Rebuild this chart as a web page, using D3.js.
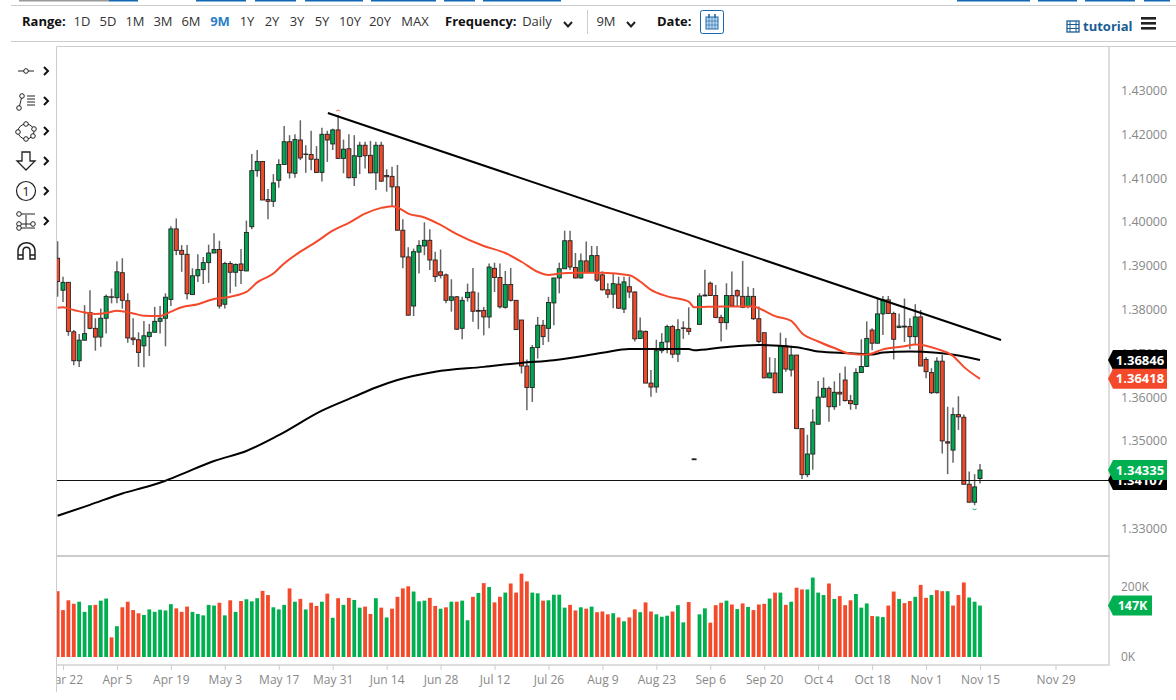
<!DOCTYPE html>
<html><head><meta charset="utf-8">
<script src="https://cdn.jsdelivr.net/npm/d3@7/dist/d3.min.js"></script>
<style>html,body{margin:0;padding:0;background:#fff;overflow:hidden}svg{display:block}
text{font-family:"Open Sans","Noto Sans",sans-serif}</style></head><body>
<svg id="c" width="1176" height="700"></svg>
<script>
// first bar index is -1 (one bar before the Mar 22 tick)
const firstIndex = -1;
const opens = [1.3917,1.3844,1.3862,1.3749,1.3683,1.3730,1.3793,1.3757,1.3737,1.3780,1.3829,1.3827,1.3884,1.3820,1.3735,1.3731,1.3717,1.3738,1.3748,1.3773,1.3780,1.3823,1.3984,1.3935,1.3926,1.3834,1.3877,1.3891,1.3907,1.3929,1.3937,1.3812,1.3905,1.3885,1.3904,1.3888,1.3989,1.4117,1.4138,1.4051,1.4047,1.4095,1.4131,1.4183,1.4111,1.4187,1.4155,1.4154,1.4143,1.4113,1.4200,1.4178,1.4210,1.4145,1.4167,1.4101,1.4149,1.4175,1.4152,1.4112,1.4175,1.4106,1.4104,1.4080,1.3981,1.3920,1.3808,1.3931,1.3945,1.3958,1.3913,1.3886,1.3879,1.3821,1.3829,1.3757,1.3827,1.3840,1.3798,1.3798,1.3783,1.3894,1.3873,1.3805,1.3857,1.3821,1.3776,1.3671,1.3622,1.3713,1.3764,1.3757,1.3815,1.3872,1.3893,1.3957,1.3896,1.3872,1.3911,1.3885,1.3923,1.3879,1.3845,1.3835,1.3858,1.3801,1.3852,1.3840,1.3734,1.3750,1.3632,1.3623,1.3706,1.3726,1.3761,1.3698,1.3758,1.3757,1.3459,1.3766,1.3833,1.3860,1.3832,1.3782,1.3770,1.3832,1.3843,1.3830,1.3807,1.3830,1.3779,1.3747,1.3644,1.3655,1.3610,1.3717,1.3662,1.3696,1.3528,1.3423,1.3470,1.3538,1.3600,1.3620,1.3578,1.3611,1.3639,1.3592,1.3583,1.3656,1.3670,1.3753,1.3723,1.3790,1.3822,1.3791,1.3759,1.3760,1.3761,1.3738,1.3783,1.3686,1.3656,1.3610,1.3682,1.3498,1.3479,1.3560,1.3554,1.3401,1.3360,1.3414];
const highs = [1.3956,1.3875,1.3862,1.3753,1.3744,1.3810,1.3844,1.3780,1.3802,1.3834,1.3848,1.3910,1.3917,1.3837,1.3780,1.3748,1.3774,1.3767,1.3806,1.3808,1.3837,1.3990,1.4008,1.3947,1.3947,1.3894,1.3926,1.3920,1.3948,1.3974,1.3957,1.3909,1.3910,1.3905,1.3938,1.4003,1.4155,1.4164,1.4139,1.4075,1.4109,1.4143,1.4219,1.4198,1.4200,1.4232,1.4175,1.4208,1.4173,1.4215,1.4208,1.4213,1.4244,1.4188,1.4200,1.4198,1.4183,1.4183,1.4185,1.4183,1.4183,1.4120,1.4126,1.4130,1.4006,1.3942,1.3939,1.3958,1.3999,1.3983,1.3932,1.3937,1.3882,1.3869,1.3831,1.3829,1.3859,1.3895,1.3839,1.3806,1.3905,1.3907,1.3905,1.3888,1.3895,1.3821,1.3776,1.3686,1.3719,1.3783,1.3776,1.3829,1.3872,1.3907,1.3980,1.3980,1.3929,1.3928,1.3955,1.3945,1.3945,1.3887,1.3860,1.3883,1.3875,1.3875,1.3875,1.3841,1.3782,1.3752,1.3662,1.3731,1.3746,1.3765,1.3765,1.3778,1.3773,1.3805,1.3459,1.3837,1.3891,1.3864,1.3856,1.3788,1.3860,1.3887,1.3846,1.3911,1.3852,1.3849,1.3807,1.3747,1.3691,1.3689,1.3747,1.3735,1.3717,1.3696,1.3528,1.3514,1.3572,1.3637,1.3645,1.3624,1.3636,1.3655,1.3670,1.3605,1.3666,1.3732,1.3773,1.3757,1.3825,1.3831,1.3831,1.3795,1.3791,1.3825,1.3780,1.3812,1.3799,1.3691,1.3666,1.3691,1.3696,1.3578,1.3576,1.3602,1.3560,1.3430,1.3424,1.3447];
const lows = [1.3829,1.3817,1.3740,1.3673,1.3669,1.3729,1.3755,1.3706,1.3715,1.3745,1.3814,1.3814,1.3802,1.3724,1.3719,1.3669,1.3668,1.3694,1.3748,1.3745,1.3716,1.3808,1.3924,1.3886,1.3823,1.3833,1.3863,1.3858,1.3861,1.3929,1.3802,1.3802,1.3837,1.3852,1.3858,1.3888,1.3983,1.4103,1.4050,1.4006,1.4034,1.4078,1.4131,1.4099,1.4101,1.4141,1.4112,1.4118,1.4112,1.4092,1.4137,1.4164,1.4145,1.4111,1.4099,1.4082,1.4109,1.4122,1.4111,1.4073,1.4092,1.4069,1.4034,1.3981,1.3894,1.3787,1.3785,1.3882,1.3924,1.3890,1.3863,1.3871,1.3814,1.3795,1.3753,1.3732,1.3818,1.3772,1.3755,1.3741,1.3757,1.3840,1.3802,1.3802,1.3818,1.3754,1.3654,1.3570,1.3589,1.3688,1.3719,1.3726,1.3764,1.3837,1.3893,1.3890,1.3871,1.3871,1.3882,1.3884,1.3863,1.3843,1.3826,1.3803,1.3801,1.3792,1.3826,1.3727,1.3733,1.3632,1.3601,1.3610,1.3700,1.3700,1.3689,1.3680,1.3733,1.3742,1.3457,1.3766,1.3830,1.3831,1.3780,1.3727,1.3754,1.3807,1.3807,1.3803,1.3803,1.3776,1.3723,1.3643,1.3643,1.3609,1.3610,1.3658,1.3647,1.3527,1.3413,1.3417,1.3434,1.3538,1.3598,1.3544,1.3571,1.3580,1.3590,1.3571,1.3572,1.3655,1.3670,1.3707,1.3723,1.3742,1.3790,1.3686,1.3757,1.3726,1.3709,1.3719,1.3671,1.3643,1.3607,1.3608,1.3471,1.3424,1.3450,1.3525,1.3401,1.3360,1.3353,1.3403];
const closes = [1.3864,1.3862,1.3750,1.3683,1.3730,1.3745,1.3757,1.3737,1.3780,1.3830,1.3828,1.3886,1.3821,1.3735,1.3731,1.3702,1.3740,1.3748,1.3773,1.3780,1.3828,1.3984,1.3935,1.3926,1.3836,1.3877,1.3891,1.3907,1.3929,1.3937,1.3808,1.3905,1.3885,1.3903,1.3889,1.3976,1.4117,1.4138,1.4050,1.4047,1.4089,1.4131,1.4183,1.4112,1.4188,1.4146,1.4154,1.4143,1.4113,1.4200,1.4187,1.4210,1.4145,1.4166,1.4101,1.4151,1.4175,1.4151,1.4112,1.4175,1.4093,1.4103,1.4080,1.3981,1.3920,1.3787,1.3932,1.3946,1.3958,1.3913,1.3875,1.3878,1.3821,1.3829,1.3755,1.3821,1.3839,1.3796,1.3796,1.3783,1.3897,1.3873,1.3806,1.3857,1.3821,1.3754,1.3671,1.3622,1.3713,1.3764,1.3738,1.3816,1.3872,1.3893,1.3957,1.3897,1.3872,1.3911,1.3885,1.3923,1.3867,1.3845,1.3835,1.3859,1.3803,1.3863,1.3840,1.3733,1.3751,1.3632,1.3623,1.3706,1.3725,1.3761,1.3698,1.3754,1.3757,1.3750,1.3457,1.3831,1.3831,1.3832,1.3782,1.3770,1.3832,1.3809,1.3831,1.3805,1.3830,1.3779,1.3727,1.3644,1.3655,1.3610,1.3717,1.3664,1.3696,1.3528,1.3423,1.3470,1.3543,1.3600,1.3620,1.3578,1.3611,1.3607,1.3592,1.3585,1.3656,1.3670,1.3734,1.3723,1.3790,1.3822,1.3791,1.3732,1.3762,1.3762,1.3738,1.3783,1.3671,1.3658,1.3610,1.3682,1.3500,1.3495,1.3560,1.3555,1.3401,1.3360,1.3395,1.34335];
const volumes = [188,134,162,152,158,129,148,149,161,167,56,88,142,158,134,125,120,136,129,135,133,151,139,129,144,129,123,119,149,147,155,119,162,129,160,165,159,168,189,177,142,136,149,196,158,166,136,155,146,158,181,112,168,149,169,163,141,144,123,168,141,113,138,172,196,202,187,159,161,169,146,138,142,158,158,161,105,172,183,211,200,156,172,184,210,184,238,216,184,182,161,162,178,178,141,149,133,142,138,144,128,130,122,125,113,102,113,136,128,156,130,122,115,118,130,148,99,157,0,122,139,98,148,155,161,150,137,153,143,134,150,152,167,184,184,149,158,198,193,193,227,184,177,210,166,174,148,162,180,141,153,117,116,114,147,187,166,154,160,172,206,169,177,191,188,188,147,177,213,170,158,147];
const volumeUp = [0,0,0,0,1,1,1,0,1,1,0,1,0,0,0,0,1,1,1,1,1,1,0,0,0,1,1,1,1,1,0,1,0,1,0,1,1,1,0,0,1,1,1,0,1,0,1,0,0,1,0,1,0,1,0,1,1,0,0,1,0,1,0,0,0,0,1,1,1,0,0,1,0,1,0,1,1,0,1,0,1,0,0,1,0,0,0,0,1,1,0,1,1,1,1,0,0,1,0,1,0,0,0,1,0,1,0,0,1,0,0,1,1,1,0,1,1,0,0,1,1,0,0,0,1,0,1,0,1,0,0,0,1,0,1,0,1,0,0,1,1,1,1,0,1,0,0,0,1,1,1,0,1,1,0,0,1,0,0,1,0,0,1,0,0,1,0,0,0,1,1,1].map(Boolean);

// moving averages read at sampled bar positions
const ma50Idx = [-1,0,2,4,6,8,10,13,15,18,20,22,25,28,30,34,36,39,41,44,47,50,53,56,59,61,62,64,67,70,73,78,82,85,88,90,92,95,100,105,107,109,112,116,117,122,128,129,132,135,137,140,143,146,149,152,156,158,162,165,167,170];
const ma50Val = [1.3804,1.3805,1.3799,1.3793,1.3790,1.3792,1.3797,1.3791,1.3786,1.3785,1.3795,1.3805,1.3812,1.3824,1.3827,1.3840,1.3862,1.3882,1.3905,1.3932,1.3955,1.3980,1.3998,1.4019,1.4032,1.4036,1.4033,1.4019,1.4010,1.3993,1.3972,1.3945,1.3929,1.3909,1.3886,1.3879,1.3882,1.3884,1.3884,1.3878,1.3864,1.3845,1.3830,1.3818,1.3805,1.3807,1.3807,1.3803,1.3785,1.3774,1.3746,1.3727,1.3712,1.3699,1.3697,1.3709,1.3716,1.3720,1.3710,1.3694,1.3669,1.36418];
const ma200Idx = [-1,5,11,16,19,22,28,34,40,48,54,58,62,69,78,85,91,100,105,116,117,122,129,136,140,146,150,152,157,162,166,170];
const ma200Val = [1.3329,1.3354,1.3380,1.3397,1.3409,1.3424,1.3454,1.3477,1.3513,1.3569,1.3601,1.3622,1.3639,1.3658,1.3669,1.3678,1.3684,1.3701,1.3710,1.3710,1.3707,1.3713,1.3719,1.3714,1.3704,1.3700,1.3697,1.3702,1.3704,1.3701,1.3695,1.36846];

// hand-drawn annotations: [bar index, price]
const trendLine = [[49.1,1.42486],[173.9,1.37304]];
const supportLevel = 1.34107;

const priceTicks = [1.33,1.34,1.35,1.36,1.37,1.38,1.39,1.40,1.41,1.42,1.43];
const volumeTicks = [0,200];
const dateTickIdx = [0,10,20,30,40,50,60,70,80,90,100,110,120,130,140,150,160,170,184];
const dateTickLabels = ["Mar 22","Apr 5","Apr 19","May 3","May 17","May 31","Jun 14","Jun 28","Jul 12","Jul 26","Aug 9","Aug 23","Sep 6","Sep 20","Oct 4","Oct 18","Nov 1","Nov 15","Nov 29"];
const rangeLabels = ["1D","5D","1M","3M","6M","9M","1Y","2Y","3Y","5Y","10Y","20Y","MAX"];
const lastTags = [{v:1.34107,c:"#000"},{v:1.36846,c:"#000"},{v:1.36418,c:"#f4492a"},{v:1.34335,c:"#00b050"}];

const RED="#f0492a", GREEN="#00a650", VRED="#f4492a", VGREEN="#00b050";
const svg=d3.select("#c");
const L=57,R=1109,T=47,SEP=556,B=665;

const x=d3.scaleLinear().domain([0,170]).range([63,980]);
const y=d3.scaleLinear().domain([1.33,1.43]).range([528.5,90.5]);
const yv=d3.scaleLinear().domain([0,200]).range([657,587]);

const defs=svg.append("defs");
defs.append("clipPath").attr("id","plot").append("rect").attr("x",L).attr("y",T).attr("width",R-L).attr("height",SEP-T);
defs.append("clipPath").attr("id","vol").append("rect").attr("x",L).attr("y",SEP).attr("width",R-L).attr("height",B-SEP);
defs.append("clipPath").attr("id","xax").append("rect").attr("x",L).attr("y",0).attr("width",R-L+60).attr("height",40);

/* ---------- page chrome ---------- */
const chrome=svg.append("g");
[[19,109,"#999"],[109,138,"#1268b3"],[196,246,"#1268b3"],[255,296,"#1268b3"],[305,363,"#1268b3"],[371,436,"#1268b3"],[444,475,"#1268b3"],[483,561,"#1268b3"],[957,1030,"#1268b3"],[1038,1077,"#1268b3"],[1085,1135,"#1268b3"],[1144,1170,"#1268b3"]]
 .forEach(d=>chrome.append("rect").attr("x",d[0]).attr("y",0).attr("width",d[1]-d[0]).attr("height",1.5).attr("fill",d[2]));
chrome.append("line").attr("x1",11).attr("x2",1176).attr("y1",5.5).attr("y2",5.5).attr("stroke","#ccc");
chrome.append("line").attr("x1",11).attr("x2",1176).attr("y1",41.5).attr("y2",41.5).attr("stroke","#ccc");

const tb=svg.append("g").attr("font-size",13).attr("fill","#333");
const t=(s,xx,yy,o={})=>tb.append("text").attr("x",xx).attr("y",yy).text(s).attr("text-anchor",o.a||"middle").attr("font-weight",o.b?700:400).attr("fill",o.c||"#333").attr("font-size",o.s||13);
t("Range:",22,26,{a:"start",b:1,c:"#111"});
const rangeX=[82,108,135,163,191,220,247,272,297,322,350,380,415];
rangeLabels.forEach((r,i)=>t(r,rangeX[i],26,r==="9M"?{b:1,c:"#2c7fc7"}:{}));
t("Frequency:",445,26,{a:"start",b:1,c:"#111"});
t("Daily",537,26);
t("9M",606,26);
t("Date:",657,26,{a:"start",b:1,c:"#111"});
const chev=(cx,cy)=>tb.append("path").attr("d",`M${cx-4},${cy-3}L${cx},${cy+1.5}L${cx+4},${cy-3}`).attr("fill","none").attr("stroke","#222").attr("stroke-width",2);
chev(568,25);chev(631,25);
tb.append("line").attr("x1",587.5).attr("x2",587.5).attr("y1",10).attr("y2",34).attr("stroke","#ccc");
tb.append("rect").attr("x",700.5).attr("y",10.5).attr("width",23).attr("height",23).attr("rx",2).attr("fill","#fff").attr("stroke","#1268b3");
tb.append("rect").attr("x",706).attr("y",17).attr("width",12).attr("height",12).attr("fill","#bcd6ee").attr("stroke","#1f6aa8");
[709,712,715].forEach(a=>tb.append("line").attr("x1",a).attr("x2",a).attr("y1",17).attr("y2",29).attr("stroke","#1f6aa8").attr("stroke-width",.6));
[21,25].forEach(a=>tb.append("line").attr("x1",706).attr("x2",718).attr("y1",a).attr("y2",a).attr("stroke","#1f6aa8").attr("stroke-width",.6));
[709,715].forEach(a=>tb.append("line").attr("x1",a).attr("x2",a).attr("y1",14).attr("y2",18).attr("stroke","#1f6aa8").attr("stroke-width",1.6));
t("tutorial",1083,31,{a:"start",b:1,c:"#1a5d94"});
tb.append("rect").attr("x",1067).attr("y",21).attr("width",12).attr("height",11).attr("fill","#fff").attr("stroke","#1a5d94").attr("stroke-width",1.3);
[1070,1076].forEach(a=>tb.append("line").attr("x1",a).attr("x2",a).attr("y1",21).attr("y2",32).attr("stroke","#1a5d94"));
[24.5,28.5].forEach(a=>tb.append("line").attr("x1",1067).attr("x2",1079).attr("y1",a).attr("y2",a).attr("stroke","#1a5d94"));
[18,23,28].forEach(a=>tb.append("rect").attr("x",1141).attr("y",a-1).attr("width",15).attr("height",2.6).attr("fill","#222"));

/* left drawing tool icons */
const ic=svg.append("g").attr("fill","none").attr("stroke","#222").attr("stroke-width",1);
const circ=(a,b,r=2.3)=>ic.append("circle").attr("cx",a).attr("cy",b).attr("r",r).attr("fill","#fff");
ic.append("path").attr("d","M18,71H34");circ(26,71);
ic.append("path").attr("d","M19,108L22,96M27,96H35M27,99H35M27,102H35M27,105H35");circ(22,96);circ(19,108);
ic.append("ellipse").attr("cx",26).attr("cy",131.5).attr("rx",8).attr("ry",7.5);[[26,124],[34,129],[33,136],[26,139],[18,132]].forEach(d=>circ(d[0],d[1]));
ic.append("path").attr("d","M22,152H30V161H35L26,170L17,161H22Z").attr("stroke-width",1.3);
ic.append("circle").attr("cx",26).attr("cy",191).attr("r",9.5).attr("stroke-width",1.2);
svg.append("text").attr("x",26).attr("y",196).attr("text-anchor","middle").attr("font-size",13).attr("fill","#222").text("1");
ic.append("path").attr("d","M18,214H35M18,228H35M18,224H35M26,215V227");circ(19,214);circ(19,224);circ(19,228);circ(33,224);
ic.append("path").attr("d","M18,259V251C18,240 35,240 35,251V259H30V251C30,246 23,246 23,251V259ZM18,255H23M30,255H35").attr("stroke-width",1.5);
const chevR=(cy)=>svg.append("path").attr("d",`M44,${cy-4}L48,${cy}L44,${cy+4}`).attr("fill","none").attr("stroke","#111").attr("stroke-width",2);
[71,101,131,161,191,221].forEach(chevR);

/* ---------- panels ---------- */
const fr=svg.append("g").attr("stroke","#ccc").attr("fill","none");
fr.append("path").attr("d",`M${L-.5},692V${T-.5}H1176`);
fr.append("line").attr("x1",R).attr("x2",R).attr("y1",T).attr("y2",B+1).attr("stroke","#ddd").attr("stroke-width",2);
fr.append("line").attr("x1",L).attr("x2",R+1).attr("y1",SEP).attr("y2",SEP).attr("stroke-width",2);
fr.append("line").attr("x1",L).attr("x2",R+1).attr("y1",B).attr("y2",B).attr("stroke","#ddd").attr("stroke-width",2);

/* ---------- candles ---------- */
const bars=d3.range(opens.length).map(k=>({i:k+firstIndex,o:opens[k],h:highs[k],l:lows[k],c:closes[k],v:volumes[k],up:volumeUp[k]}));
const plot=svg.append("g").attr("clip-path","url(#plot)");
plot.append("g").selectAll("line").data(bars).join("line")
 .attr("x1",d=>x(d.i)).attr("x2",d=>x(d.i)).attr("y1",d=>y(d.h)).attr("y2",d=>y(d.l))
 .attr("stroke",d=>d.v===0?"#111":"#666").attr("stroke-width",1.5);
plot.append("g").selectAll("rect").data(bars).join("rect")
 .attr("x",d=>x(d.i)-2).attr("width",4)
 .attr("y",d=>y(Math.max(d.o,d.c))).attr("height",d=>Math.max(.5,Math.abs(y(d.o)-y(d.c))))
 .attr("fill",d=>d.c>d.o?GREEN:RED).attr("stroke","#222").attr("stroke-width",.9);

const line=d3.line().x(d=>x(d[0])).y(d=>y(d[1])).curve(d3.curveMonotoneX);
plot.append("path").attr("d",line(d3.zip(ma200Idx,ma200Val))).attr("fill","none").attr("stroke","#000").attr("stroke-width",2);
plot.append("path").attr("d",line(d3.zip(ma50Idx,ma50Val))).attr("fill","none").attr("stroke","#f4492a").attr("stroke-width",2);
plot.append("path").attr("d",d3.line().x(d=>x(d[0])).y(d=>y(d[1]))(trendLine)).attr("fill","none").attr("stroke","#000").attr("stroke-width",2);
const sy=Math.round(y(supportLevel))+.5;
svg.append("line").attr("x1",L).attr("x2",R).attr("y1",sy).attr("y2",sy).attr("stroke","#111").attr("stroke-width",1);

// high / low markers
const hiBar=bars.reduce((a,b)=>b.h>a.h?b:a), loBar=bars.reduce((a,b)=>b.l<a.l?b:a);
plot.append("path").attr("d",`M${x(hiBar.i)-2},${y(hiBar.h)-4}q2,-2 4,0`).attr("fill","none").attr("stroke","#f4492a").attr("stroke-width",.8);
plot.append("path").attr("d",`M${x(loBar.i)-2},${y(loBar.l)+3.5}q2,2 4,0`).attr("fill","none").attr("stroke","#00b050").attr("stroke-width",.9);

/* ---------- volume ---------- */
svg.append("g").attr("clip-path","url(#vol)").selectAll("rect").data(bars).join("rect")
 .attr("x",d=>x(d.i)-1.9).attr("width",3.8).attr("y",d=>yv(d.v)).attr("height",d=>yv(0)-yv(d.v))
 .attr("fill",d=>d.up?VGREEN:VRED);

/* ---------- axes ---------- */
const axY=d3.axisRight(y).tickValues(priceTicks).tickSize(0).tickPadding(12).tickFormat(d3.format(".5f"));
const gy=svg.append("g").attr("transform",`translate(${R},0)`).call(axY);
gy.select(".domain").remove();
gy.selectAll("text").attr("font-size",12.5).attr("fill","#888").attr("font-family",'"Open Sans"');

const axV=d3.axisRight(yv).tickValues(volumeTicks).tickSize(0).tickPadding(12).tickFormat(d=>d+"K");
const gv=svg.append("g").attr("transform",`translate(${R},0)`).call(axV);
gv.select(".domain").remove();
gv.selectAll("text").attr("font-size",12).attr("fill","#888").attr("font-family",'"Open Sans"');

const axX=d3.axisBottom(x).tickValues(dateTickIdx).tickSize(5).tickPadding(5).tickFormat(d=>dateTickLabels[dateTickIdx.indexOf(d)]);
const gx=svg.append("g").attr("transform",`translate(0,${B})`).attr("clip-path","url(#xax)").call(axX);
gx.select(".domain").remove();
gx.selectAll("line").attr("stroke","#ccc");
gx.selectAll("text").attr("font-size",12).attr("fill","#888").attr("font-family",'"Open Sans"');

/* ---------- last value tags ---------- */
const tag=(cy,c,label,w=58,h=20,fs=13)=>{
  const g=svg.append("g");
  g.append("path").attr("d",`M${R-1},${cy}L${R+4},${cy-h/2}H${R+w}V${cy+h/2}H${R+4}Z`).attr("fill",c);
  g.append("text").attr("x",R+4+(w-4)/2).attr("y",cy+4.5).attr("text-anchor","middle").attr("font-size",fs).attr("font-weight",700).attr("fill","#fff").text(label);
};
lastTags.forEach(d=>tag(y(d.v),d.c,d3.format(".5f")(d.v)));
tag(yv(volumes[volumes.length-1]),VGREEN,volumes[volumes.length-1]+"K",43,20,12.5);
</script></body></html>
